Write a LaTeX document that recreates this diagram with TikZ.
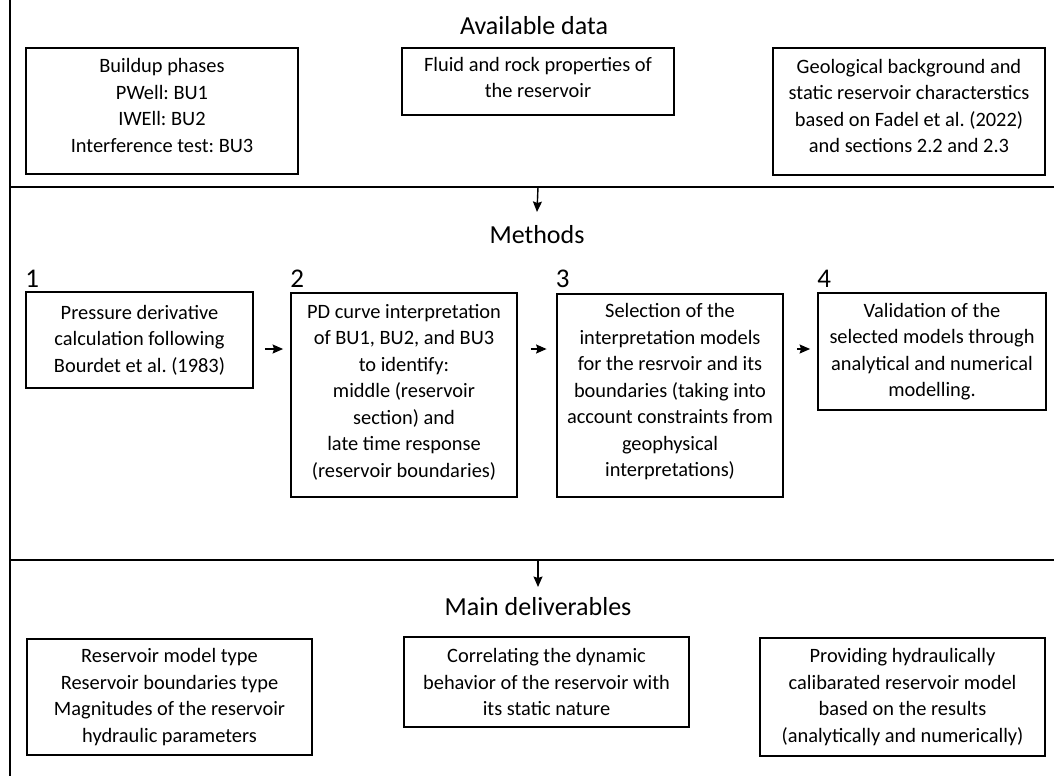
\documentclass[tikz,border=0pt]{standalone}
\usepackage{fontspec}
\setmainfont{Carlito}
\usetikzlibrary{arrows.meta}
\frenchspacing
\begin{document}
\frenchspacing
\begin{tikzpicture}[x=1pt,y=-1pt,
  box/.style={draw, line width=1.8pt, align=center, inner sep=0pt,
    font=\fontsize{20.4}{26.5}\selectfont},
  thickbox/.style={box, line width=2.8pt},
  ttl/.style={anchor=base, inner sep=0pt, font=\fontsize{26}{30}\selectfont},
  num/.style={anchor=base west, inner sep=0pt, font=\fontsize{27}{30}\selectfont},
  rule/.style={line width=1.8pt},
  arr/.style={line width=1.4pt, -{Stealth[length=10.5pt,width=9pt,inset=1.5pt]}}]
\useasboundingbox (0,0) rectangle (1054,776);
% frame lines
\coordinate (ltop) at (10,0);
\coordinate (lbot) at (10,776);
\coordinate (r1a) at (10,187);
\coordinate (r1b) at (1054,187);
\coordinate (r2a) at (10,560);
\coordinate (r2b) at (1054,560);
\draw[rule] (ltop) -- (lbot);
\draw[rule] (r1a) -- (r1b);
\draw[rule] (r2a) -- (r2b);
% titles
\node[ttl] (tav) at (534,35) {Available data};
\node[ttl] (tme) at (537,243) {Methods};
\node[ttl] (tmd) at (538,615) {Main deliverables};
% available data boxes
\node[box, text depth=11pt, minimum width=272pt, minimum height=126pt] (a1) at (162,111)
  {Buildup phases\\PWell: BU1\\IWEll: BU2\\Interference test: BU3};
\node[box, text depth=8pt, minimum width=272pt, minimum height=67pt] (a2) at (538,81.5)
  {Fluid and rock properties of\\the reservoir};
\node[box, text depth=11pt, minimum width=272pt, minimum height=127pt] (a3) at (909,111.5)
  {Geological background and\\static reservoir characterstics\\based on Fadel et al. (2022)\\and sections 2.2 and 2.3};
% methods boxes
\node[box, minimum width=227pt, minimum height=96pt] (m1) at (139.5,340)
  {Pressure derivative\\calculation following\\Bourdet et al. (1983)};
\node[box, text depth=9pt, minimum width=226pt, minimum height=204pt] (m2) at (404,395)
  {PD curve interpretation\\of BU1, BU2, and BU3\\to identify:\\middle (reservoir\\section) and\\late time response\\(reservoir boundaries)};
\node[thickbox, text depth=11pt, minimum width=226pt, minimum height=203pt] (m3) at (670,395.5)
  {Selection of the\\interpretation models\\for the resrvoir and its\\boundaries (taking into\\account constraints from\\geophysical\\interpretations)};
\node[box, minimum width=228pt, minimum height=117pt] (m4) at (932,351.5)
  {Validation of the\\selected models through\\analytical and numerical\\modelling.};
% step numbers
\node[num] (n1) at (m1.north west |- 0,287) {1};
\node[num] (n2) at (m2.north west |- 0,287) {2};
\node[num] (n3) at (m3.north west |- 0,287) {3};
\node[num] (n4) at (m4.north west |- 0,287) {4};
% deliverables boxes
\node[box, minimum width=285pt, minimum height=116pt] (d1) at (169.5,697)
  {Reservoir model type\\Reservoir boundaries type\\Magnitudes of the reservoir\\hydraulic parameters};
\node[box, minimum width=285pt, minimum height=90pt] (d2) at (546.5,682)
  {Correlating the dynamic\\behavior of the reservoir with\\its static nature};
\node[box, minimum width=285pt, minimum height=118pt] (d3) at (902.5,697)
  {Providing hydraulically\\calibarated reservoir model\\based on the results\\(analytically and numerically)};
% arrows
\coordinate (s0) at (538,187);
\draw[arr] (s0) -- ([yshift=13pt]tme.north |- 0,225);
\coordinate (s4) at (538,560);
\draw[arr] (s4) -- ([yshift=13pt]tmd.north |- 0,600);
\path ([shift={(11,9)}]m1.east) coordinate (s1);
\draw[arr] (s1) -- ([xshift=-7pt]m2.west |- s1);
\path ([shift={(13,-46)}]m2.east) coordinate (s2);
\draw[arr] (s2) -- ([xshift=-9pt]m3.west |- s2);
\path ([shift={(13,-46.5)}]m3.east) coordinate (s3);
\draw[arr] (s3) -- ([xshift=-7pt]m4.west |- s3);
\end{tikzpicture}
\end{document}
